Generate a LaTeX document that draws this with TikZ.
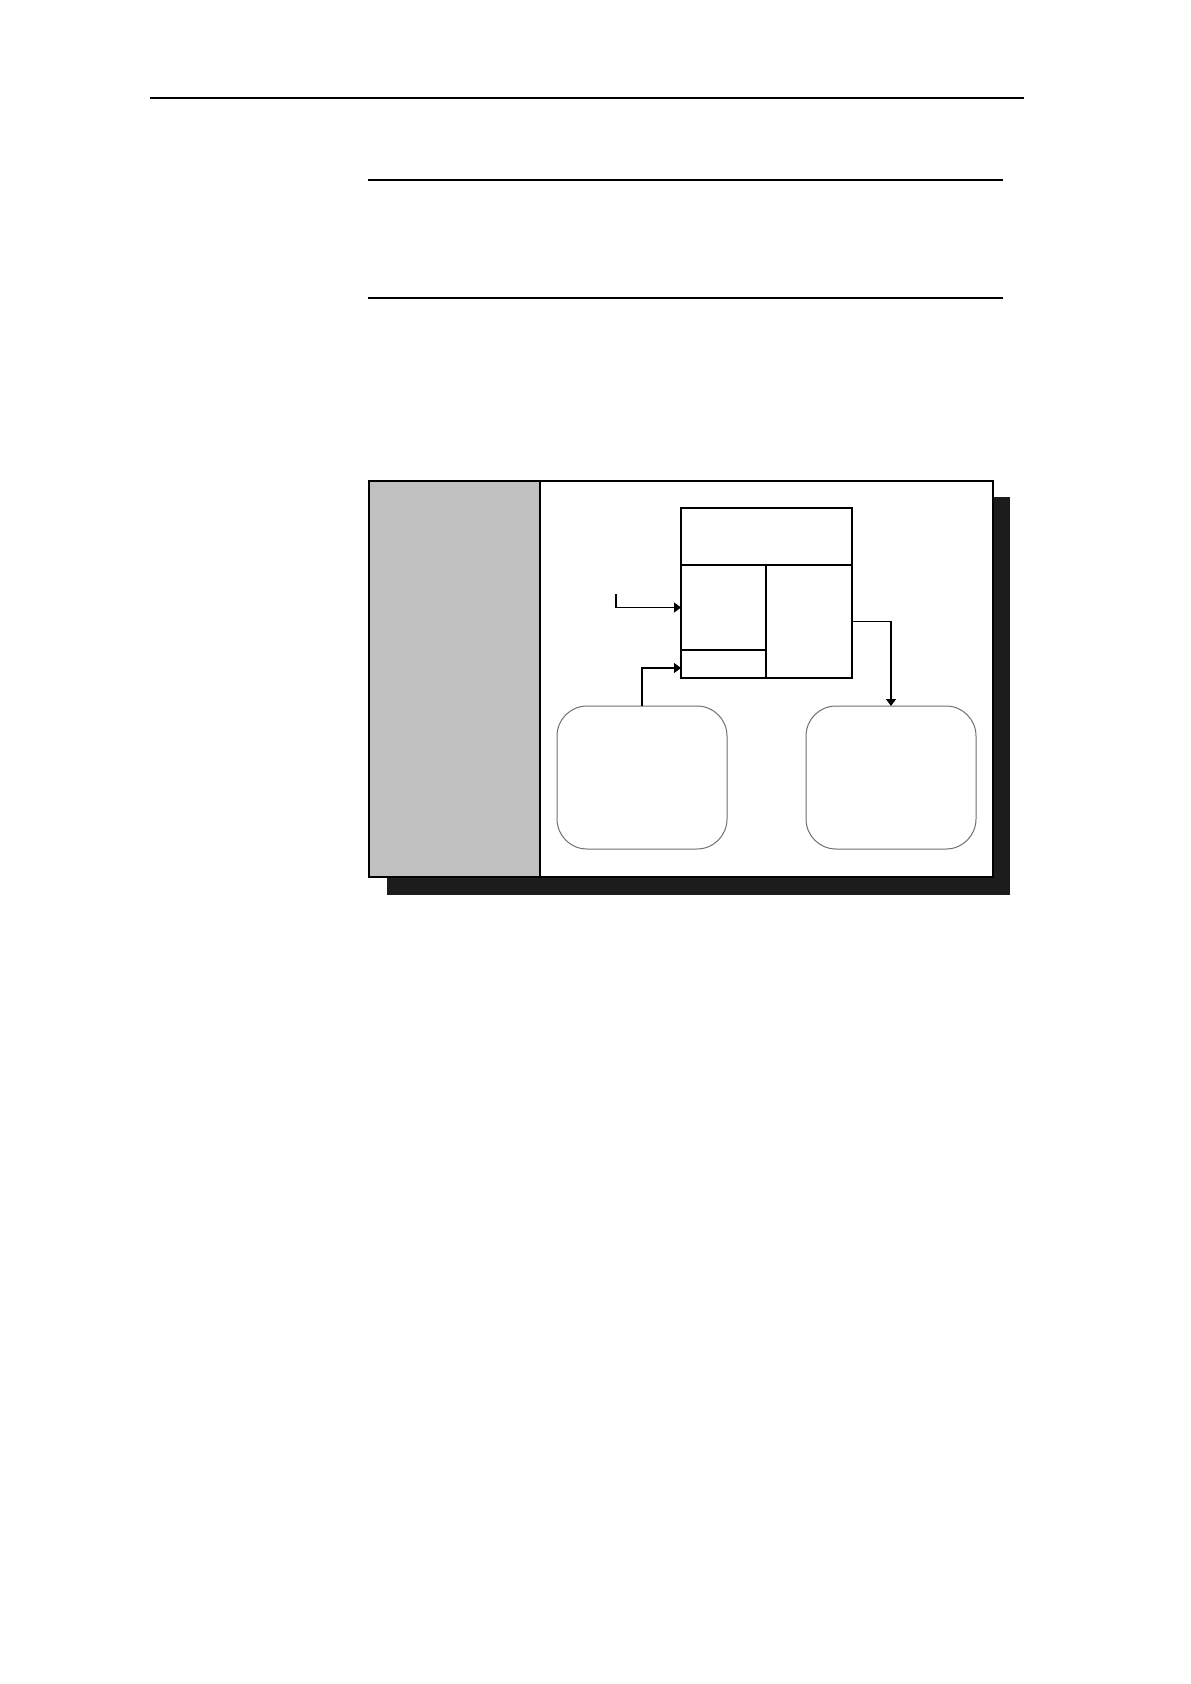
\documentclass[tikz,border=0pt]{standalone}
\usetikzlibrary{arrows.meta,fit}
\definecolor{panelgrey}{HTML}{C0C0C0}
\definecolor{shadowc}{HTML}{1C1C1C}
\definecolor{roundc}{HTML}{707070}
\begin{document}
\begin{tikzpicture}[x=0.5pt,y=-0.5pt,
  cell/.style={draw=black,line width=0.6pt,inner sep=0pt,outer sep=0pt},
  roundbox/.style={draw=roundc,line width=0.5pt,rounded corners=15pt,inner sep=0pt,outer sep=0pt,fill=white},
  conn/.style={draw=black,line width=0.6pt,-{Triangle[length=3.5pt,width=5pt]}},
  rule/.style={draw=black}]
\useasboundingbox (0,0) rectangle (1190,1684);
\fill[white] (0,0) rectangle (1190,1684);
% horizontal rules
\draw[rule,line width=0.7pt] (150,98) -- (1024,98);
\draw[rule,line width=0.55pt] (368,180) -- (1003,180);
\draw[rule,line width=1.1pt] (368,298) -- (1003,298);
% shadow and frame
\fill[shadowc] (387,497) rectangle (1010,895);
\node[cell,fill=white,fit={(369,481) (993,877)}] (frame) {};
\node[cell,fill=panelgrey,fit={(369,481) (540,877)}] (panel) {};
% table
\node[cell,fit={(681,508) (852,565)}] (topcell) {};
\node[cell,fit={(681,565) (766,650)}] (leftcell) {};
\node[cell,fit={(681,650) (766,678)}] (lowcell) {};
\node[cell,fit={(766,565) (852,678)}] (rightcell) {};
% rounded boxes
\node[roundbox,fit={(557,706) (727,849)}] (boxL) {};
\node[roundbox,fit={(806,706) (976,849)}] (boxR) {};
% connectors
\coordinate (inp) at (616,594);
\draw[conn] (inp) |- (leftcell.west);
\draw[conn] (boxL.north) |- ([yshift=-2pt]lowcell.west);
\draw[conn] (rightcell.east) -| (boxR.north);
\end{tikzpicture}
\end{document}
